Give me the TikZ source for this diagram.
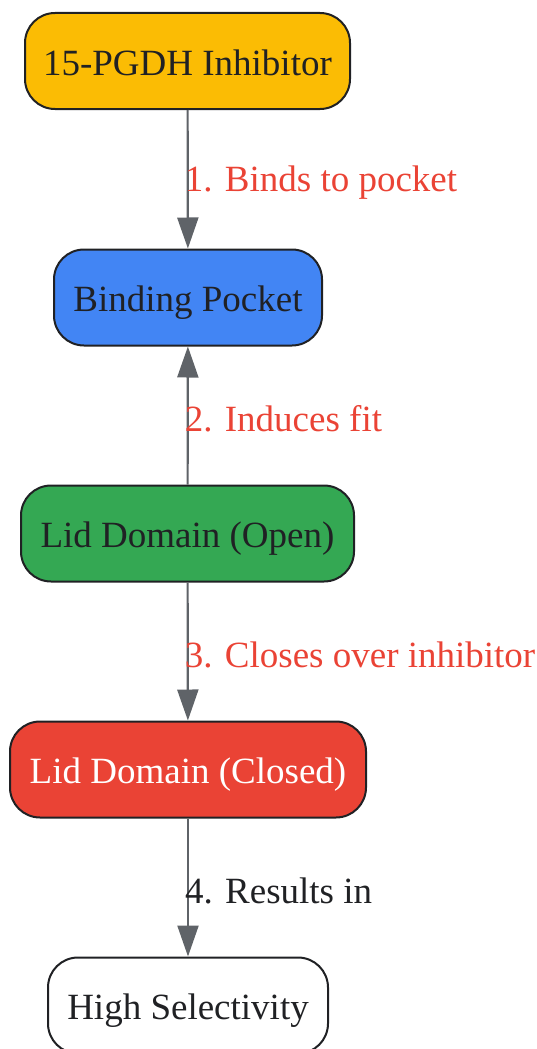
\documentclass[tikz,border=0pt]{standalone}
\usepackage{fontspec}
\setmainfont{Liberation Serif}
\usetikzlibrary{arrows.meta}
\definecolor{cyellow}{HTML}{FBBC04}
\definecolor{cblue}{HTML}{4285F4}
\definecolor{cgreen}{HTML}{34A853}
\definecolor{cred}{HTML}{EA4335}
\definecolor{cdark}{HTML}{202124}
\definecolor{cgray}{HTML}{5F6368}
\begin{document}
\begin{tikzpicture}[x=1pt,y=1pt,
  box/.style={draw=cdark, line width=2pt, rounded corners=30pt, minimum height=96pt,
    inner sep=0pt, text height=32pt, text depth=4pt, font=\fontsize{37}{42}\selectfont, text=cdark},
  conn/.style={draw=cgray, line width=2.2pt, -{Triangle[length=31pt,width=21pt]}},
  lbl/.style={font=\fontsize{37}{42}\selectfont, anchor=west, inner sep=0pt, xshift=-4pt, yshift=-3pt},
  redlbl/.style={lbl, text=cred}]
\useasboundingbox (0,0) rectangle (537,-1049);
\node[box, fill=cyellow, minimum width=325pt] (n1) at (187.5,-61) {15-PGDH Inhibitor};
\node[box, fill=cblue, minimum width=268pt] (n2) at (188,-297.5) {Binding Pocket};
\node[box, fill=cgreen, minimum width=333pt] (n3) at (187.5,-533.5) {Lid Domain (Open)};
\node[box, fill=cred, minimum width=356pt, text=white] (n4) at (188,-769.5) {Lid Domain (Closed)};
\node[box, fill=white, minimum width=280pt] (n5) at (188,-1005.5) {High Selectivity};
\draw[conn] (n1) -- node[redlbl] {1. Binds to pocket} (n2);
\draw[conn] (n3) -- node[redlbl] {2. Induces fit} (n2);
\draw[conn] (n3) -- node[redlbl] {3. Closes over inhibitor} (n4);
\draw[conn] (n4) -- node[lbl, text=cdark] {4. Results in} (n5);
\end{tikzpicture}
\end{document}
